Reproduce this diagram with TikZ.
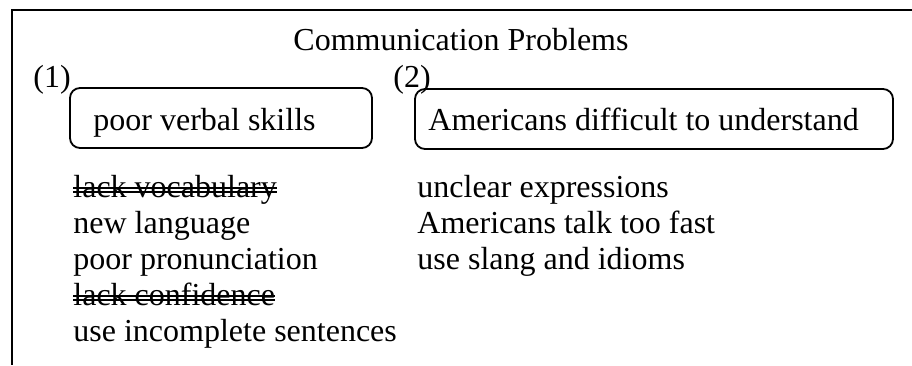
\documentclass[tikz,border=0pt]{standalone}
\usepackage{fontspec}
\setmainfont{Liberation Serif}
\usetikzlibrary{fit}
\begin{document}
\begin{tikzpicture}[x=0.5pt,y=-0.5pt,
  txt/.style={inner sep=0pt, anchor=base west, font=\fontsize{16}{18}\selectfont},
  frame/.style={line width=1pt},
  bubble/.style={draw, line width=0.9pt, rounded corners=5pt, inner sep=0pt},
  strike/.style={line width=0.65pt}]
\useasboundingbox (0,0) rectangle (912,365);
% frame (top and left only)
\coordinate (ftop) at (912,10);
\coordinate (fcorner) at (12,10);
\coordinate (fbottom) at (12,365);
\draw[frame] (ftop) -- (fcorner) -- (fbottom);
% title
\node[txt, anchor=base] (title) at (461,50) {Communication Problems};
% numbers
\node[txt] (n1) at (33,87) {(1)};
\node[txt] (n2) at (393,87) {(2)};
% boxes
\node[txt] (t1) at (93,130) {poor verbal skills};
\node[txt] (t2) at (428,130) {Americans difficult to understand};
\node[bubble, fit={(70,88) (372,148)}] (b1) {};
\node[bubble, fit={(415,89) (893,149)}] (b2) {};
% column 1
\node[txt] (a1) at (73,197) {lack vocabulary};
\node[txt] (a2) at (73,233) {new language};
\node[txt] (a3) at (73,269) {poor pronunciation};
\node[txt] (a4) at (73,305) {lack confidence};
\node[txt] (a5) at (73,341) {use incomplete sentences};
% column 2
\node[txt] (c1) at (417,197) {unclear expressions};
\node[txt] (c2) at (417,233) {Americans talk too fast};
\node[txt] (c3) at (417,269) {use slang and idioms};
% double strike-through
\foreach \n in {a1,a4}{
  \draw[strike] ([yshift=4.5pt]\n.base west) -- ([yshift=4.5pt]\n.base east);
  \draw[strike] ([yshift=2.5pt]\n.base west) -- ([yshift=2.5pt]\n.base east);
}
\end{tikzpicture}
\end{document}
